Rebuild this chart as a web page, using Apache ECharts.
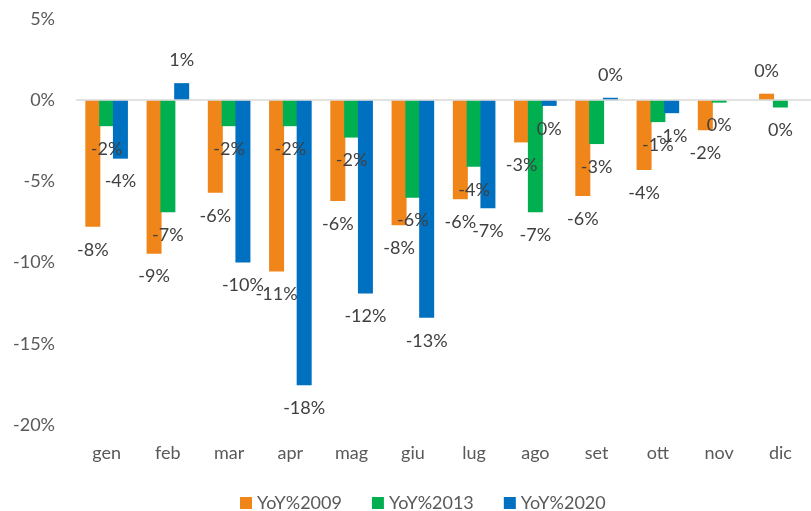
<!DOCTYPE html>
<html lang="it">
<head>
    <meta charset="UTF-8">
    <title>YoY</title>
    <script src="https://cdn.jsdelivr.net/npm/echarts@6/dist/echarts.min.js"></script>
    <style>
        html, body { margin: 0; padding: 0; background: #fff; }
        #main { width: 811px; height: 511px; }
    </style>
</head>
<body>
<div id="main"></div>
<script type="text/javascript">
    // dati
    var mesi = ['gen', 'feb', 'mar', 'apr', 'mag', 'giu', 'lug', 'ago', 'set', 'ott', 'nov', 'dic'];
    var yoy2009 = [-7.8, -9.45, -5.7, -10.55, -6.2, -7.7, -6.1, -2.6, -5.9, -4.3, -1.85, 0.4];
    var yoy2013 = [-1.6, -6.9, -1.6, -1.6, -2.3, -6.0, -4.1, -6.9, -2.7, -1.35, -0.15, -0.45];
    var yoy2020 = [-3.6, 1.05, -10.0, -17.55, -11.9, -13.4, -6.65, -0.35, 0.15, -0.8, null, null];
    var yTicks = [-20, 5, 5]; // min, max, passo

    var font = 'Lato, "Liberation Sans", sans-serif';

    function punti(arr) {
        return arr.map(function (v) {
            if (v === null) return null;
            return {value: v, label: {position: v < 0 ? 'bottom' : 'top'}};
        });
    }

    function serie(nome, dati, colore) {
        return {
            name: nome,
            type: 'bar',
            barWidth: 15,
            barGap: '-8%',
            itemStyle: {color: colore},
            label: {
                show: true,
                distance: 14,
                color: '#404040',
                fontSize: 18,
                fontFamily: font,
                formatter: function (p) { return Math.round(p.value) + '%'; }
            },
            data: punti(dati)
        };
    }

    var myChart = echarts.init(document.getElementById('main'));

    var series = [
        serie('YoY%2009', yoy2009, '#F0861A'),
        serie('YoY%2013', yoy2013, '#00B050'),
        serie('YoY%2020', yoy2020, '#0070C0')
    ];
    // linea dello zero
    series[0].markLine = {
        silent: true,
        symbol: 'none',
        label: {show: false},
        lineStyle: {color: '#D9D9D9', width: 1.5, type: 'solid'},
        data: [{yAxis: 0}]
    };

    var option = {
        animation: false,
        grid: {left: 76, width: 742, top: 19, bottom: 86},
        legend: {
            left: 235,
            top: 489,
            itemWidth: 12,
            itemHeight: 12,
            itemGap: 30,
            icon: 'rect',
            textStyle: {color: '#595959', fontSize: 18, fontFamily: font},
            data: ['YoY%2009', 'YoY%2013', 'YoY%2020']
        },
        xAxis: {
            type: 'category',
            data: mesi,
            axisLine: {show: false, onZero: false},
            axisTick: {show: false},
            axisLabel: {color: '#595959', fontSize: 18, fontFamily: font, margin: 19}
        },
        yAxis: {
            type: 'value',
            min: yTicks[0],
            max: yTicks[1],
            interval: yTicks[2],
            splitLine: {show: false},
            axisLine: {show: false},
            axisTick: {show: false},
            axisLabel: {
                color: '#595959', fontSize: 18, fontFamily: font, margin: 21,
                formatter: function (v) { return v + '%'; }
            }
        },
        series: series
    };

    myChart.setOption(option);
</script>
</body>
</html>
